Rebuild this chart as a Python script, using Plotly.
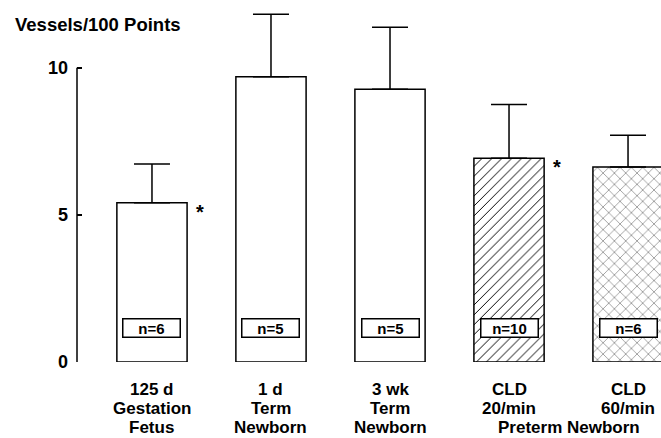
import plotly.graph_objects as go

categories = ["125 d Gestation Fetus", "1 d Term Newborn", "3 wk Term Newborn",
              "CLD 20/min", "CLD 60/min"]
label_lines = [["125 d", "Gestation", "Fetus"], ["1 d", "Term", "Newborn"],
               ["3 wk", "Term", "Newborn"], ["CLD", "20/min"], ["CLD", "60/min"]]
means = [5.41, 9.70, 9.27, 6.93, 6.63]
sem_up = [1.32, 2.12, 2.11, 1.82, 1.08]
n_labels = ["n=6", "n=5", "n=5", "n=10", "n=6"]
n_label_y = [1.14, 1.14, 1.14, 1.14, 1.14]
significant = [True, False, False, True, False]
group_label = "Preterm Newborn"
y_ticks = [0, 5, 10]

FONT = "Liberation Sans, Arial, Helvetica, sans-serif"
patterns = ["", "", "", "/", "x"]
pattern_sizes = [8, 8, 8, 7, 8]
pattern_solidity = [0.2, 0.2, 0.2, 0.14, 0.1]
pattern_fg = ["black", "black", "black", "black", "#222222"]

fig = go.Figure()
fig.add_trace(go.Bar(
    x=categories, y=means, width=0.59,
    marker=dict(color="white", line=dict(color="black", width=1.5),
                pattern=dict(shape=patterns, fgcolor=pattern_fg, bgcolor="white",
                             size=pattern_sizes, solidity=pattern_solidity, fillmode="replace")),
    error_y=dict(type="data", array=sem_up, arrayminus=[0]*len(sem_up), symmetric=False,
                 color="black", thickness=1.5, width=18),
    showlegend=False, hoverinfo="skip",
))

annotations = []
line_shifts = [-27.5, -46.6, -65.7]
for c, lines in zip(categories, label_lines):
    for k, ln in enumerate(lines):
        annotations.append(dict(x=c, y=0, xref="x", yref="paper", text=ln, showarrow=False,
                                yanchor="middle", yshift=line_shifts[k],
                                font=dict(family=FONT, size=17, color="black", weight="bold")))
annotations.append(dict(x=3.5, y=0, xref="x", yref="paper", text=group_label, showarrow=False,
                        yanchor="middle", yshift=line_shifts[2],
                        font=dict(family=FONT, size=17, color="black", weight="bold")))
for c, t, ny in zip(categories, n_labels, n_label_y):
    annotations.append(dict(x=c, y=ny, xref="x", yref="y", text=t, showarrow=False,
                            font=dict(family=FONT, size=15, color="black", weight="bold"),
                            bgcolor="white", bordercolor="black", borderwidth=1.5,
                            width=54, height=15, borderpad=1))
for c, m, s in zip(categories, means, significant):
    if s:
        annotations.append(dict(x=c, y=m, xref="x", yref="y", text="*", showarrow=False,
                                xshift=48, yshift=-9,
                                font=dict(family=FONT, size=20, color="black", weight="bold")))
annotations.append(dict(x=-0.1096, y=0.9547, xref="paper", yref="paper", text="Vessels/100 Points",
                        showarrow=False, xanchor="left", yanchor="middle",
                        font=dict(family=FONT, size=18.5, color="black", weight="bold")))

fig.update_layout(
    width=661, height=438,
    margin=dict(l=77, r=0, t=9, b=76),
    paper_bgcolor="white", plot_bgcolor="white",
    annotations=annotations,
    shapes=[dict(type="line", xref="paper", yref="y", x0=0, x1=0, y0=0, y1=10,
                 line=dict(color="black", width=1.5))],
    xaxis=dict(range=[-0.63, 4.277], showline=False, showgrid=False, zeroline=False,
               ticks="", showticklabels=False),
    yaxis=dict(range=[0, 12], tickvals=y_ticks, ticktext=[str(v) for v in y_ticks],
               showline=False, showgrid=False, zeroline=False,
               ticks="inside", ticklen=5, tickwidth=1.5, tickcolor="black",
               tickfont=dict(family=FONT, size=18, color="black", weight="bold"),
               ticklabelstandoff=8),
    bargap=0.4,
)

fig.write_html("out.html", config={"displayModeBar": False},
               post_script="document.body.style.margin='0';document.body.style.overflow='hidden';")
